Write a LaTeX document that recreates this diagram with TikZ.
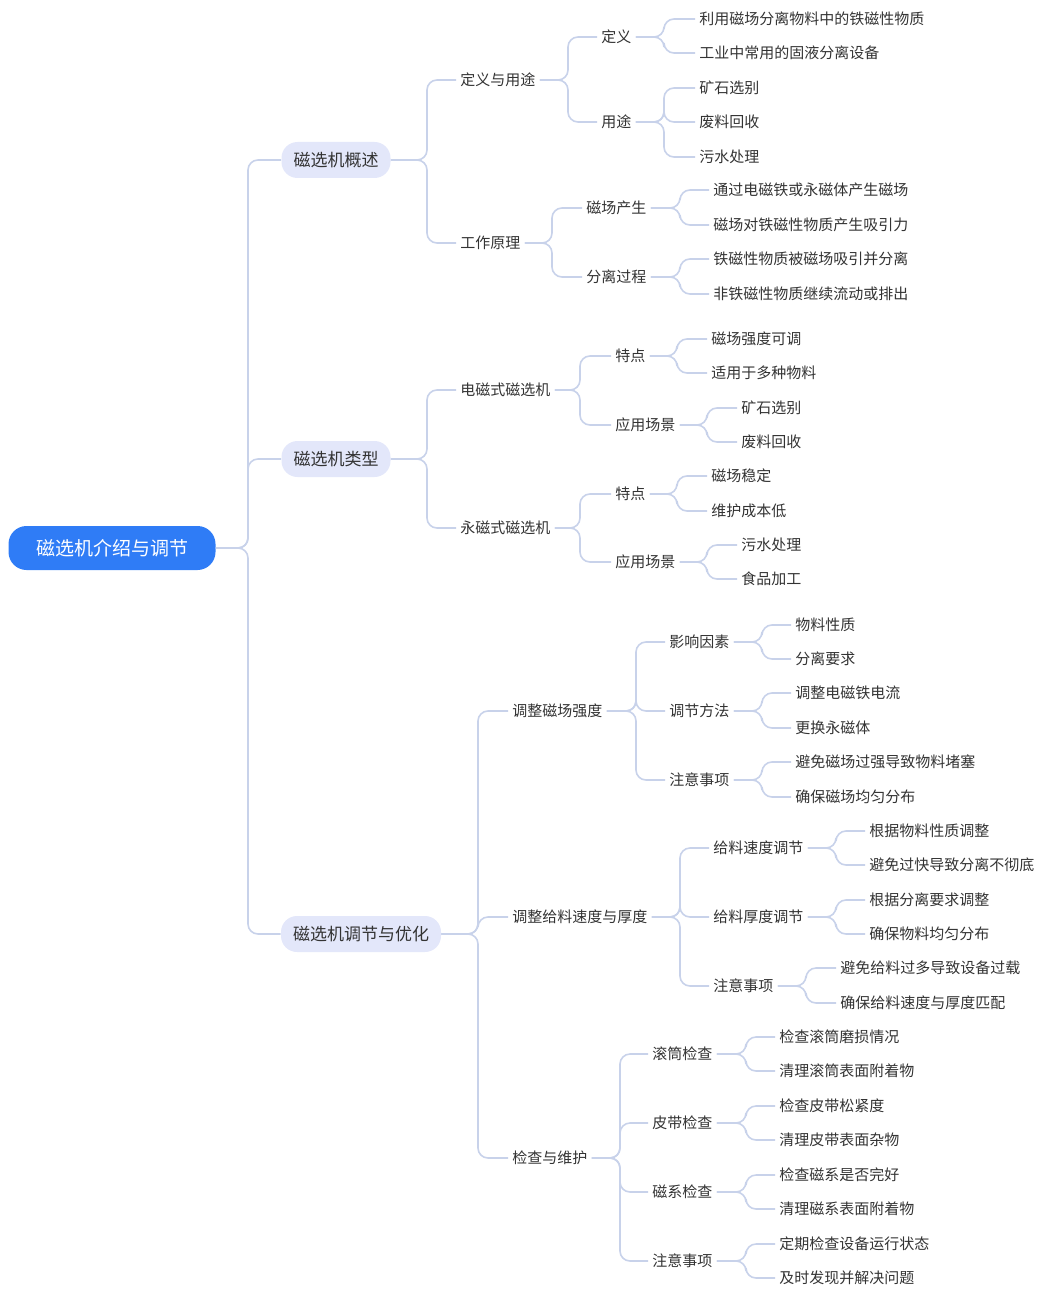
\documentclass[tikz,border=0pt]{standalone}
\usepackage{fontspec}
\setmainfont{Noto Sans CJK SC}
\definecolor{rootblue}{HTML}{2F7CF6}
\definecolor{lavfill}{HTML}{E3E7FA}
\definecolor{linegrey}{HTML}{C8D2EA}
\definecolor{txtgrey}{HTML}{333333}
\tikzset{
	rootnode/.style={rectangle, rounded corners=9pt, fill=rootblue, text=white, minimum width=103.5pt, minimum height=22pt, font=\fontsize{9.5}{10}\selectfont},
	topicnode/.style={rectangle, rounded corners=8pt, fill=lavfill, text=txtgrey, minimum height=18pt, inner xsep=6pt, font=\fontsize{8.5}{9}\selectfont},
	subnode/.style={anchor=west, text=txtgrey, inner sep=2pt, font=\fontsize{7.5}{8}\selectfont},
	conn/.style={draw=linegrey, line width=0.8pt, rounded corners=5pt}
}
\newcommand{\branch}[3]{\coordinate (tk) at (#3,0); \draw[conn] (#1.east) -- (tk|-#1.east) |- (#2.west);}
\begin{document}
\begin{tikzpicture}[x=0.5pt,y=-0.5pt]
	\useasboundingbox (0,0) rectangle (1054,1300);
	\node[rootnode] (root) at (112,548) {磁选机介绍与调节};
	\node[topicnode] (gs) at (336,160) {磁选机概述};
	\node[topicnode] (lx) at (336,459) {磁选机类型};
	\node[topicnode] (tj) at (361,934) {磁选机调节与优化};
	
	% 概述
	\node[subnode] (dyyt) at (456,80) {定义与用途};
	\node[subnode] (gzyl) at (456,243) {工作原理};
	\node[subnode] (dy) at (597,37) {定义};
	\node[subnode] (yt) at (597,122) {用途};
	\node[subnode] (cc) at (582,208) {磁场产生};
	\node[subnode] (fl) at (582,277) {分离过程};
	\node[subnode] (a1) at (695,19) {利用磁场分离物料中的铁磁性物质};
	\node[subnode] (a2) at (695,53) {工业中常用的固液分离设备};
	\node[subnode] (a3) at (695,88) {矿石选别};
	\node[subnode] (a4) at (695,122) {废料回收};
	\node[subnode] (a5) at (695,157) {污水处理};
	\node[subnode] (a6) at (709,190) {通过电磁铁或永磁体产生磁场};
	\node[subnode] (a7) at (709,225) {磁场对铁磁性物质产生吸引力};
	\node[subnode] (a8) at (709,259) {铁磁性物质被磁场吸引并分离};
	\node[subnode] (a9) at (709,294) {非铁磁性物质继续流动或排出};
	
	% 类型
	\node[subnode] (dc) at (456,390) {电磁式磁选机};
	\node[subnode] (yc) at (456,528) {永磁式磁选机};
	\node[subnode] (td1) at (611,356) {特点};
	\node[subnode] (cj1) at (611,425) {应用场景};
	\node[subnode] (td2) at (611,494) {特点};
	\node[subnode] (cj2) at (611,562) {应用场景};
	\node[subnode] (b1) at (707,339) {磁场强度可调};
	\node[subnode] (b2) at (707,373) {适用于多种物料};
	\node[subnode] (b3) at (737,408) {矿石选别};
	\node[subnode] (b4) at (737,442) {废料回收};
	\node[subnode] (b5) at (707,476) {磁场稳定};
	\node[subnode] (b6) at (707,511) {维护成本低};
	\node[subnode] (b7) at (737,545) {污水处理};
	\node[subnode] (b8) at (737,579) {食品加工};
	
	% 调节与优化
	\node[subnode] (qd) at (508,711) {调整磁场强度};
	\node[subnode] (gl) at (508,917) {调整给料速度与厚度};
	\node[subnode] (wh) at (508,1158) {检查与维护};
	\node[subnode] (yx) at (665,642) {影响因素};
	\node[subnode] (ff) at (665,711) {调节方法};
	\node[subnode] (zy1) at (665,780) {注意事项};
	\node[subnode] (sd) at (709,848) {给料速度调节};
	\node[subnode] (hd) at (709,917) {给料厚度调节};
	\node[subnode] (zy2) at (709,986) {注意事项};
	\node[subnode] (gt) at (648,1054) {滚筒检查};
	\node[subnode] (pd) at (648,1123) {皮带检查};
	\node[subnode] (cx) at (648,1192) {磁系检查};
	\node[subnode] (zy3) at (648,1261) {注意事项};
	\node[subnode] (c1) at (791,625) {物料性质};
	\node[subnode] (c2) at (791,659) {分离要求};
	\node[subnode] (c3) at (791,693) {调整电磁铁电流};
	\node[subnode] (c4) at (791,728) {更换永磁体};
	\node[subnode] (c5) at (791,762) {避免磁场过强导致物料堵塞};
	\node[subnode] (c6) at (791,797) {确保磁场均匀分布};
	\node[subnode] (d1) at (865,831) {根据物料性质调整};
	\node[subnode] (d2) at (865,865) {避免过快导致分离不彻底};
	\node[subnode] (d3) at (865,900) {根据分离要求调整};
	\node[subnode] (d4) at (865,934) {确保物料均匀分布};
	\node[subnode] (d5) at (836,968) {避免给料过多导致设备过载};
	\node[subnode] (d6) at (836,1003) {确保给料速度与厚度匹配};
	\node[subnode] (e1) at (775,1037) {检查滚筒磨损情况};
	\node[subnode] (e2) at (775,1071) {清理滚筒表面附着物};
	\node[subnode] (e3) at (775,1106) {检查皮带松紧度};
	\node[subnode] (e4) at (775,1140) {清理皮带表面杂物};
	\node[subnode] (e5) at (775,1175) {检查磁系是否完好};
	\node[subnode] (e6) at (775,1209) {清理磁系表面附着物};
	\node[subnode] (e7) at (775,1244) {定期检查设备运行状态};
	\node[subnode] (e8) at (775,1278) {及时发现并解决问题};
	
	% connectors
	\branch{root}{gs}{248} \branch{root}{lx}{248} \branch{root}{tj}{248}
	\branch{gs}{dyyt}{427} \branch{gs}{gzyl}{427}
	\branch{dyyt}{dy}{568} \branch{dyyt}{yt}{568}
	\branch{dy}{a1}{664} \branch{dy}{a2}{664}
	\branch{yt}{a3}{664} \branch{yt}{a4}{664} \branch{yt}{a5}{664}
	\branch{gzyl}{cc}{552} \branch{gzyl}{fl}{552}
	\branch{cc}{a6}{680} \branch{cc}{a7}{680}
	\branch{fl}{a8}{680} \branch{fl}{a9}{680}
	\branch{lx}{dc}{427} \branch{lx}{yc}{427}
	\branch{dc}{td1}{580} \branch{dc}{cj1}{580}
	\branch{yc}{td2}{580} \branch{yc}{cj2}{580}
	\branch{td1}{b1}{677} \branch{td1}{b2}{677}
	\branch{cj1}{b3}{707} \branch{cj1}{b4}{707}
	\branch{td2}{b5}{677} \branch{td2}{b6}{677}
	\branch{cj2}{b7}{707} \branch{cj2}{b8}{707}
	\branch{tj}{qd}{478} \branch{tj}{gl}{478} \branch{tj}{wh}{478}
	\branch{qd}{yx}{636} \branch{qd}{ff}{636} \branch{qd}{zy1}{636}
	\branch{yx}{c1}{762} \branch{yx}{c2}{762}
	\branch{ff}{c3}{762} \branch{ff}{c4}{762}
	\branch{zy1}{c5}{762} \branch{zy1}{c6}{762}
	\branch{gl}{sd}{680} \branch{gl}{hd}{680} \branch{gl}{zy2}{680}
	\branch{sd}{d1}{836} \branch{sd}{d2}{836}
	\branch{hd}{d3}{836} \branch{hd}{d4}{836}
	\branch{zy2}{d5}{806} \branch{zy2}{d6}{806}
	\branch{wh}{gt}{620} \branch{wh}{pd}{620} \branch{wh}{cx}{620} \branch{wh}{zy3}{620}
	\branch{gt}{e1}{746} \branch{gt}{e2}{746}
	\branch{pd}{e3}{746} \branch{pd}{e4}{746}
	\branch{cx}{e5}{746} \branch{cx}{e6}{746}
	\branch{zy3}{e7}{746} \branch{zy3}{e8}{746}
\end{tikzpicture}
\end{document}
